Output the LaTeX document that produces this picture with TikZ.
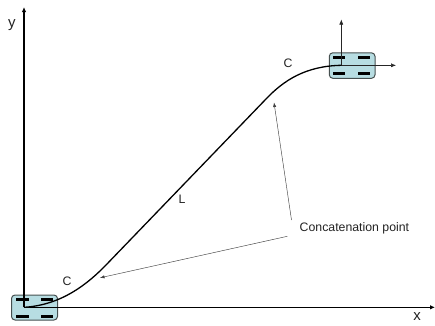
\documentclass[tikz,border=0pt]{standalone}
\usepackage{fontspec}
\setmainfont{Liberation Sans}
\usetikzlibrary{arrows.meta}
\definecolor{carbody}{RGB}{183,221,226}
\definecolor{carline}{RGB}{70,80,80}
\definecolor{txt}{RGB}{35,35,35}
\tikzset{
  x=1pt,y=-1pt,
  car/.style={draw=carline,fill=carbody,line width=1pt,rounded corners=3.5pt},
  slot/.style={fill=black,draw=none},
  axisbig/.style={draw=black,line width=1.1pt,-{Latex[length=5pt,width=4.5pt]}},
  axissmall/.style={draw=black!85,line width=0.5pt,-{Latex[length=5pt,width=4pt]}},
  pointer/.style={draw=black!75,line width=0.45pt,-{Latex[length=4.5pt,width=3.2pt]}},
  path/.style={draw=black,line width=1.3pt},
  lab/.style={text=txt,inner sep=0pt,font=\fontsize{12.3}{14}\selectfont},
  axlab/.style={text=txt,inner sep=0pt,font=\fontsize{15}{17}\selectfont}
}
\begin{document}
\begin{tikzpicture}
\useasboundingbox (0,0) rectangle (435,325);
% lower car
\draw[car] (11.5,295) rectangle (57.5,320);
\foreach \x/\y in {16.3/299.5,40.9/299.5,16.3/316,40.9/316}
  \fill[slot] (\x,\y-1.5) rectangle ++(12.2,3);
% upper car
\draw[car] (329.3,52.8) rectangle (375,78.3);
\foreach \x/\y in {333/57.2,358/57.2,333/73.8,358/73.8}
  \fill[slot] (\x,\y-1.5) rectangle ++(12.2,3);
% named anchors
\coordinate (o) at (24,307.3);
\coordinate (ytop) at (24,7);
\coordinate (xend) at (435,307.3);
\coordinate (o2) at (341.3,65.3);
\coordinate (y2) at (341.3,19.5);
\coordinate (x2) at (396,65.3);
\coordinate (j1) at (106,265);
\coordinate (j2) at (266,99);
% axes
\draw[axisbig] (o) -- (ytop);
\draw[axisbig] (o) -- (xend);
\draw[axissmall] (o2) -- (y2);
\draw[axissmall] (o2) -- (x2);
% path
\draw[path] (o) .. controls (62,305) and (88,283.5) .. (j1) -- (j2) .. controls (284,80) and (306,66) .. (o2);
% labels
\node[axlab] (ylab) at (12,25) {y};
\node[axlab] (xlab) at (417,317) {x};
\node[lab] (c1) at (67,281) {C};
\node[lab] (c2) at (288,63) {C};
\node[lab] (l) at (182,199) {L};
\node[lab,anchor=west] (cp) at (299.5,228.5) {Concatenation point};
\coordinate (a1) at (291.5,220);
\coordinate (a2) at (287.3,236.3);
\coordinate (t1) at (274,102.5);
\coordinate (t2) at (100,277.8);
\draw[pointer] (a1) -- (t1);
\draw[pointer] (a2) -- (t2);
\end{tikzpicture}
\end{document}
